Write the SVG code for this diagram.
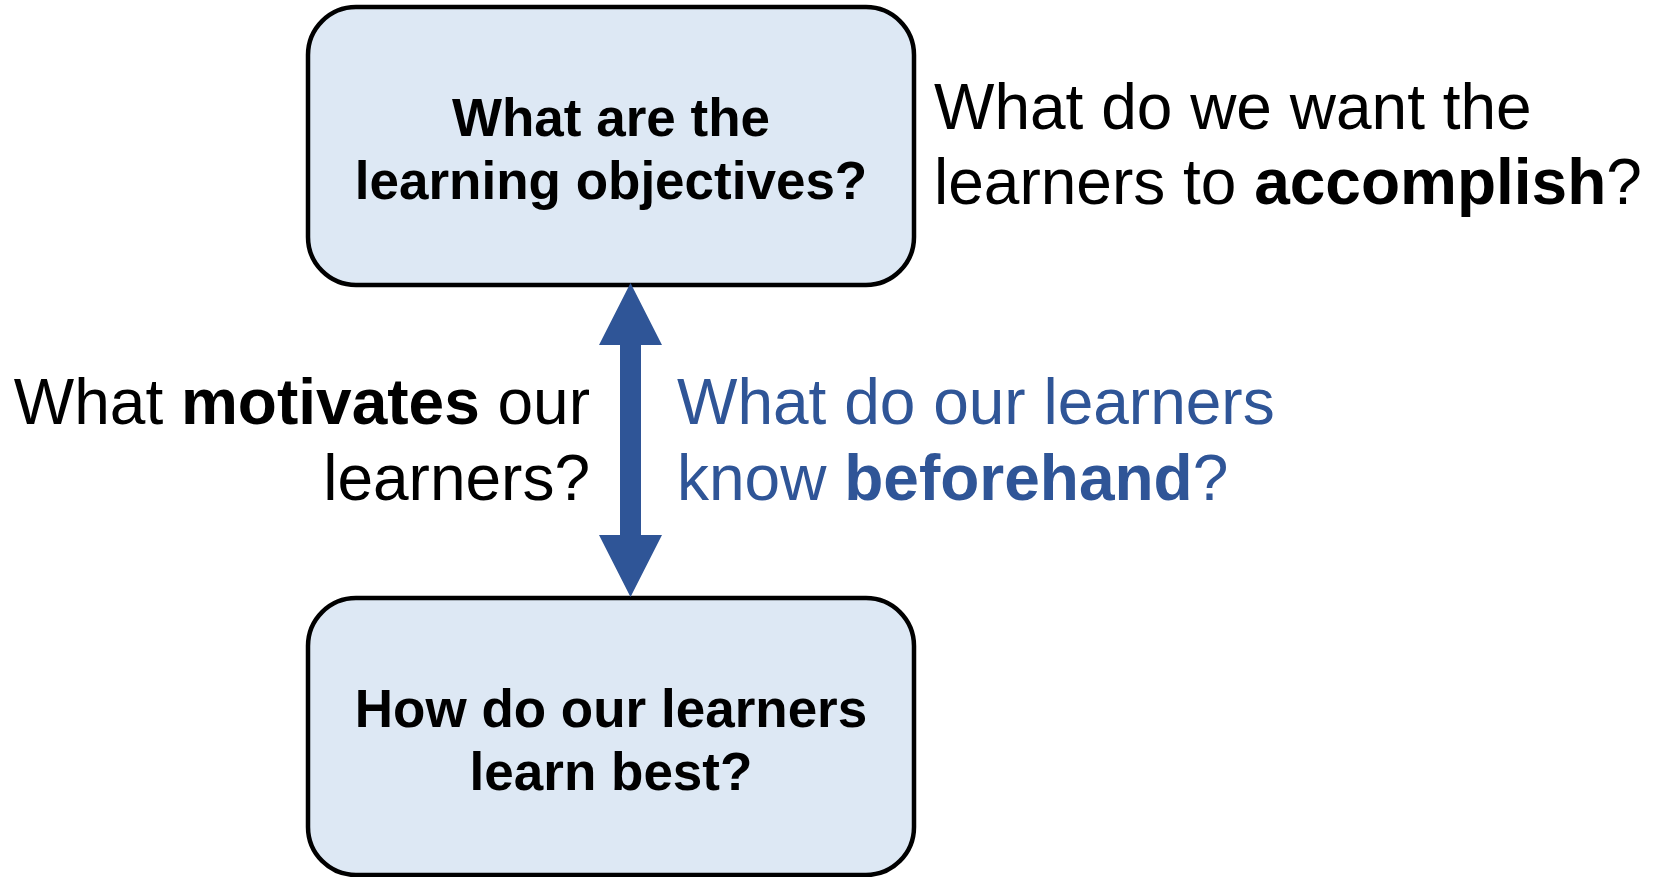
<svg xmlns="http://www.w3.org/2000/svg" width="1661" height="877" viewBox="0 0 1661 877">
<style>
.box{fill:#dde8f4;stroke:#000;stroke-width:4.5}
.bt{font-family:"Liberation Sans",Arial,sans-serif;font-weight:bold;font-size:53px;fill:#000;text-anchor:middle}
.q{font-family:"Liberation Sans",Arial,sans-serif;font-size:64px;fill:#000}
.blue{fill:#2f5597}
.b{font-weight:bold}
</style>
<rect width="1661" height="877" fill="#fff"/>
<g id="node-objectives">
<rect class="box" x="308" y="7" width="606" height="278" rx="48" ry="48"/>
<text class="bt" x="611" y="136">What are the</text>
<text class="bt" x="611" y="199">learning objectives?</text>
</g>
<g id="node-learn-best">
<rect class="box" x="308" y="598" width="606" height="277" rx="48" ry="48"/>
<text class="bt" x="611" y="727">How do our learners</text>
<text class="bt" x="611" y="790">learn best?</text>
</g>
<g id="connectors">
<polygon fill="#2f5597" points="630.5,283 662,345 641,345 641,535 662,535 630.5,597 599,535 620,535 620,345 599,345"/>
</g>
<g id="label-accomplish">
<text class="q" x="934" y="129">What do we want the</text>
<text class="q" x="934" y="204">learners to <tspan class="b">accomplish</tspan>?</text>
</g>
<g id="label-motivates">
<text class="q" x="590" y="424" text-anchor="end">What <tspan class="b">motivates</tspan> our</text>
<text class="q" x="590" y="500" text-anchor="end">learners?</text>
</g>
<g id="label-beforehand">
<text class="q blue" x="677" y="424">What do our learners</text>
<text class="q blue" x="677" y="500">know <tspan class="b">beforehand</tspan>?</text>
</g>
</svg>
